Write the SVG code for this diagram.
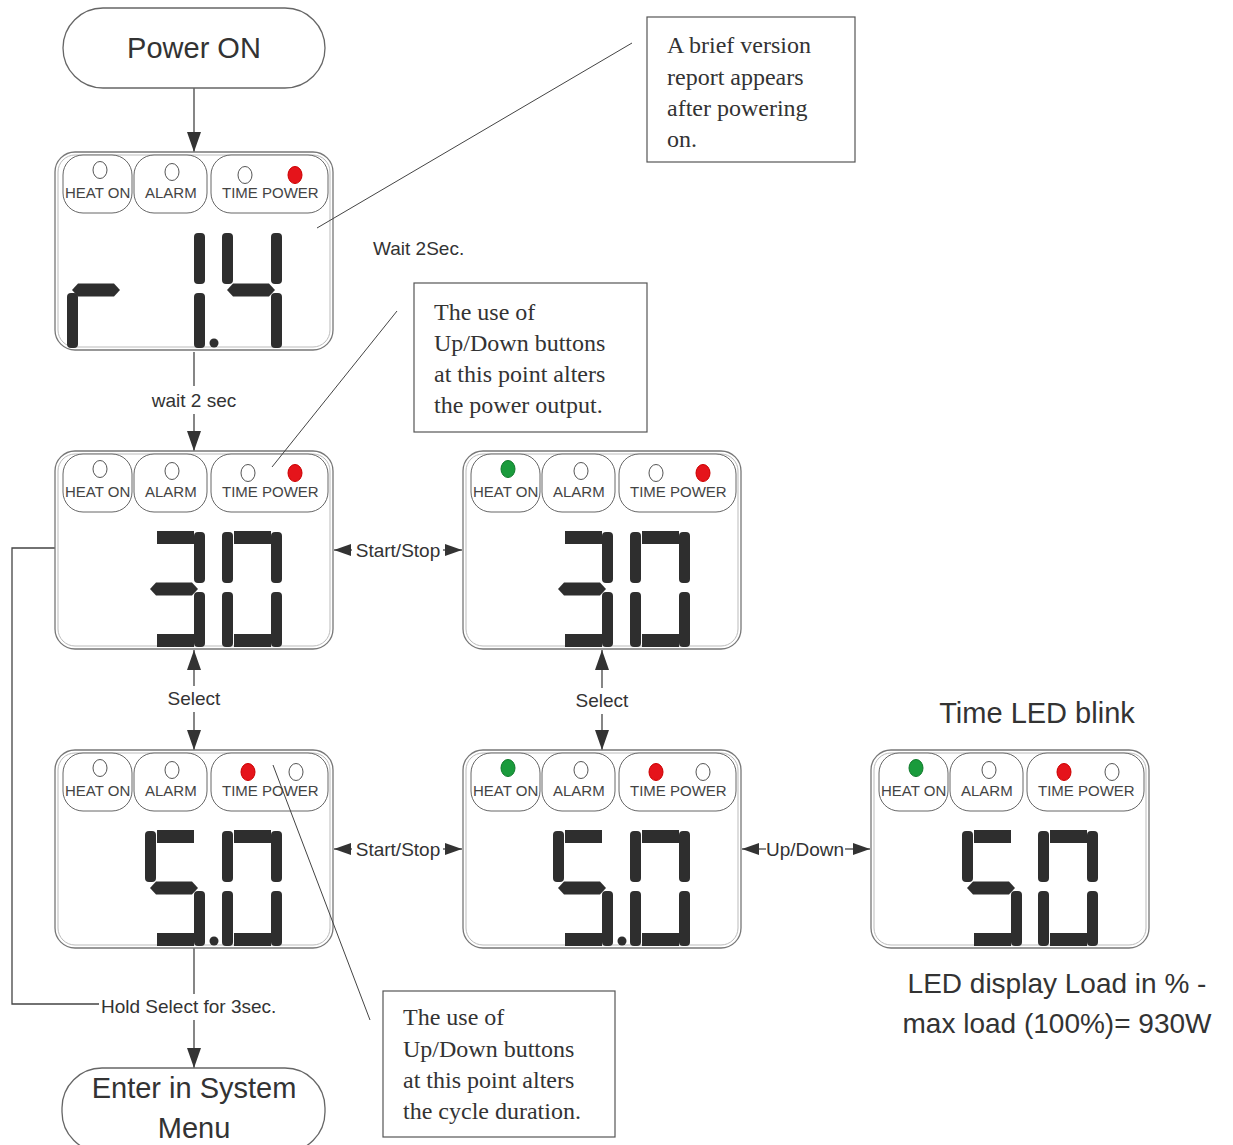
<svg xmlns="http://www.w3.org/2000/svg" xmlns:xlink="http://www.w3.org/1999/xlink" width="1233" height="1145" viewBox="0 0 1233 1145">
<style>
.bg{fill:#fff}
.term{fill:#fff;stroke:#666;stroke-width:1.3}
.termtxt{font-family:"Liberation Sans",Arial,sans-serif;font-size:29px;fill:#333;text-anchor:middle}
.frame{fill:#fff;stroke:#777;stroke-width:1.3}
.frame2{fill:none;stroke:#bbb;stroke-width:1}
.pill{fill:#fff;stroke:#666;stroke-width:1}
.ledlbl{font-family:"Liberation Sans",Arial,sans-serif;font-size:15px;fill:#444}
.led{fill:#fff;stroke:#555;stroke-width:1}
.red{fill:#e5141b;stroke:#c00;stroke-width:1}
.green{fill:#1a9b3c;stroke:#117a2c;stroke-width:1}
.seg{fill:#2e2e2e}
.lbl{font-family:"Liberation Sans",Arial,sans-serif;font-size:19px;fill:#333}
.mid{text-anchor:middle}
.big{font-family:"Liberation Sans",Arial,sans-serif;font-size:28px;fill:#333;text-anchor:middle}
.conn{fill:none;stroke:#444;stroke-width:1.3}
.lead{fill:none;stroke:#444;stroke-width:1}
.note{fill:#fff;stroke:#555;stroke-width:1.2}
.notetxt{font-family:"Liberation Serif","Times New Roman",serif;font-size:24px;fill:#333}
</style>
<defs>
<marker id="arr" viewBox="0 0 20 14" refX="20" refY="7" markerWidth="20" markerHeight="14" markerUnits="userSpaceOnUse" orient="auto">
<path d="M0,0 L20,7 L0,14 z" fill="#333"/>
</marker>
<marker id="arrs" viewBox="0 0 17 12" refX="17" refY="6" markerWidth="17" markerHeight="12" markerUnits="userSpaceOnUse" orient="auto">
<path d="M0,0 L17,6 L0,12 z" fill="#333"/>
</marker>
<g id="frame">
<rect class="frame" x="0" y="0" width="278" height="198" rx="20"/>
<rect class="frame2" x="3" y="3" width="272" height="192" rx="17"/>
<rect class="pill" x="8" y="3" width="69" height="58" rx="20"/>
<rect class="pill" x="79" y="3" width="73" height="58" rx="20"/>
<rect class="pill" x="156" y="3" width="117" height="58" rx="20"/>
<text class="ledlbl" x="10" y="46">HEAT ON</text>
<text class="ledlbl" x="90" y="46">ALARM</text>
<text class="ledlbl" x="167" y="46">TIME POWER</text>
</g>
<path id="sA" class="seg" d="M12,0h37v13h-37z"/>
<rect id="sB" class="seg" x="49" y="1" width="11" height="51" rx="4"/>
<rect id="sC" class="seg" x="49" y="61" width="11" height="55" rx="4"/>
<path id="sD" class="seg" d="M12,103h37v13h-37z"/>
<rect id="sE" class="seg" x="0" y="61" width="11" height="55" rx="4"/>
<rect id="sF" class="seg" x="0" y="1" width="11" height="51" rx="4"/>
<path id="sG" class="seg" d="M5,58 L11,51.5 H47 L53,58 L47,64.5 H11 z"/>
<g id="d0"><use xlink:href="#sA"/><use xlink:href="#sB"/><use xlink:href="#sC"/><use xlink:href="#sD"/><use xlink:href="#sE"/><use xlink:href="#sF"/></g>
<g id="d1"><use xlink:href="#sB"/><use xlink:href="#sC"/></g>
<g id="d3"><use xlink:href="#sA"/><use xlink:href="#sB"/><use xlink:href="#sC"/><use xlink:href="#sD"/><use xlink:href="#sG"/></g>
<g id="d4"><use xlink:href="#sF"/><use xlink:href="#sG"/><use xlink:href="#sB"/><use xlink:href="#sC"/></g>
<g id="d5"><use xlink:href="#sA"/><use xlink:href="#sF"/><use xlink:href="#sG"/><use xlink:href="#sC"/><use xlink:href="#sD"/></g>
<g id="dr"><use xlink:href="#sE"/><use xlink:href="#sG"/></g>
</defs>
<rect class="bg" x="0" y="0" width="1233" height="1145"/>

<g id="connectors">
<path class="conn" d="M194,88 V152" marker-end="url(#arr)"/>
<path class="conn" d="M194,352 V386"/>
<path class="conn" d="M194,414 V451" marker-end="url(#arr)"/>
<path class="conn" d="M194,686 V650" marker-end="url(#arr)"/>
<path class="conn" d="M194,712 V750" marker-end="url(#arr)"/>
<path class="conn" d="M602,688 V650" marker-end="url(#arr)"/>
<path class="conn" d="M602,714 V750" marker-end="url(#arr)"/>
<path class="conn" d="M352,550 H334" marker-end="url(#arrs)"/>
<path class="conn" d="M443,550 H462" marker-end="url(#arrs)"/>
<path class="conn" d="M352,849 H334" marker-end="url(#arrs)"/>
<path class="conn" d="M443,849 H462" marker-end="url(#arrs)"/>
<path class="conn" d="M766,849 H742" marker-end="url(#arrs)"/>
<path class="conn" d="M845,849 H870" marker-end="url(#arrs)"/>
<path class="conn" d="M55,548 H12 V1004 H99"/>
<path class="conn" d="M194,948 V994"/>
<path class="conn" d="M194,1020 V1068" marker-end="url(#arr)"/>
<text class="lbl" x="373" y="255">Wait 2Sec.</text>
<text class="lbl mid" x="194" y="407">wait 2 sec</text>
<text class="lbl mid" x="194" y="705">Select</text>
<text class="lbl mid" x="602" y="707">Select</text>
<text class="lbl mid" x="398" y="557">Start/Stop</text>
<text class="lbl mid" x="398" y="856">Start/Stop</text>
<text class="lbl mid" x="805" y="856">Up/Down</text>
<text class="lbl" x="101" y="1013">Hold Select for 3sec.</text>
</g>

<g id="power-on">
<rect class="term" x="63" y="8" width="262" height="80" rx="40"/>
<text class="termtxt" x="194" y="58">Power ON</text>
</g>

<g id="display-r14" transform="translate(55,152)">
<use xlink:href="#frame"/>
<ellipse class="led" cx="45" cy="18" rx="7" ry="8.5"/>
<ellipse class="led" cx="117" cy="20" rx="7" ry="8.5"/>
<ellipse class="led" cx="190" cy="23" rx="7" ry="8.5"/>
<ellipse class="red" cx="240" cy="23" rx="7" ry="8.5"/>
<use xlink:href="#dr" x="12" y="80"/>
<use xlink:href="#d1" x="90" y="80"/>
<use xlink:href="#d4" x="167" y="80"/>
<circle class="seg" cx="159" cy="191" r="4.5"/>
</g>

<g id="display-30-a" transform="translate(55,451)">
<use xlink:href="#frame"/>
<ellipse class="led" cx="45" cy="18" rx="7" ry="8.5"/>
<ellipse class="led" cx="117" cy="20" rx="7" ry="8.5"/>
<ellipse class="led" cx="193" cy="22" rx="7" ry="8.5"/>
<ellipse class="red" cx="240" cy="22" rx="7" ry="8.5"/>
<use xlink:href="#d3" x="90" y="80"/>
<use xlink:href="#d0" x="167" y="80"/>
</g>

<g id="display-30-b" transform="translate(463,451)">
<use xlink:href="#frame"/>
<ellipse class="green" cx="45" cy="18" rx="7" ry="8.5"/>
<ellipse class="led" cx="118" cy="20" rx="7" ry="8.5"/>
<ellipse class="led" cx="193" cy="22" rx="7" ry="8.5"/>
<ellipse class="red" cx="240" cy="22" rx="7" ry="8.5"/>
<use xlink:href="#d3" x="90" y="80"/>
<use xlink:href="#d0" x="167" y="80"/>
</g>

<g id="display-50-a" transform="translate(55,750)">
<use xlink:href="#frame"/>
<ellipse class="led" cx="45" cy="18" rx="7" ry="8.5"/>
<ellipse class="led" cx="117" cy="20" rx="7" ry="8.5"/>
<ellipse class="red" cx="193" cy="22" rx="7" ry="8.5"/>
<ellipse class="led" cx="241" cy="22" rx="7" ry="8.5"/>
<use xlink:href="#d5" x="90" y="80"/>
<use xlink:href="#d0" x="167" y="80"/>
<circle class="seg" cx="159" cy="191" r="4.5"/>
</g>

<g id="display-50-b" transform="translate(463,750)">
<use xlink:href="#frame"/>
<ellipse class="green" cx="45" cy="18" rx="7" ry="8.5"/>
<ellipse class="led" cx="118" cy="20" rx="7" ry="8.5"/>
<ellipse class="red" cx="193" cy="22" rx="7" ry="8.5"/>
<ellipse class="led" cx="240" cy="22" rx="7" ry="8.5"/>
<use xlink:href="#d5" x="90" y="80"/>
<use xlink:href="#d0" x="167" y="80"/>
<circle class="seg" cx="159" cy="191" r="4.5"/>
</g>

<g id="display-50-c" transform="translate(871,750)">
<use xlink:href="#frame"/>
<ellipse class="green" cx="45" cy="18" rx="7" ry="8.5"/>
<ellipse class="led" cx="118" cy="20" rx="7" ry="8.5"/>
<ellipse class="red" cx="193" cy="22" rx="7" ry="8.5"/>
<ellipse class="led" cx="241" cy="22" rx="7" ry="8.5"/>
<use xlink:href="#d5" x="91" y="80"/>
<use xlink:href="#d0" x="167" y="80"/>
</g>

<g id="time-led-text">
<text class="big" x="1037" y="723" style="font-size:29px">Time LED blink</text>
<text class="big" x="1057" y="993">LED display Load in % -</text>
<text class="big" x="1057" y="1033">max load (100%)= 930W</text>
</g>

<g id="system-menu">
<rect class="term" x="62" y="1068" width="263" height="84" rx="40"/>
<text class="termtxt" x="194" y="1098">Enter in System</text>
<text class="termtxt" x="194" y="1138">Menu</text>
</g>

<g id="callout-leaders">
<path class="lead" d="M317,228 L632,43"/>
<path class="lead" d="M272,467 L397,311"/>
<path class="lead" d="M273,765 L370,1020"/>
</g>

<g id="note-version">
<rect class="note" x="647" y="17" width="208" height="145"/>
<text class="notetxt" x="667" y="53">A brief version</text>
<text class="notetxt" x="667" y="85">report appears</text>
<text class="notetxt" x="667" y="116">after powering</text>
<text class="notetxt" x="667" y="147">on.</text>
</g>

<g id="note-power">
<rect class="note" x="414" y="283" width="233" height="149"/>
<text class="notetxt" x="434" y="320">The use of</text>
<text class="notetxt" x="434" y="351">Up/Down buttons</text>
<text class="notetxt" x="434" y="382">at this point alters</text>
<text class="notetxt" x="434" y="413">the power output.</text>
</g>

<g id="note-cycle">
<rect class="note" x="383" y="991" width="232" height="146"/>
<text class="notetxt" x="403" y="1025">The use of</text>
<text class="notetxt" x="403" y="1057">Up/Down buttons</text>
<text class="notetxt" x="403" y="1088">at this point alters</text>
<text class="notetxt" x="403" y="1119">the cycle duration.</text>
</g>
</svg>
